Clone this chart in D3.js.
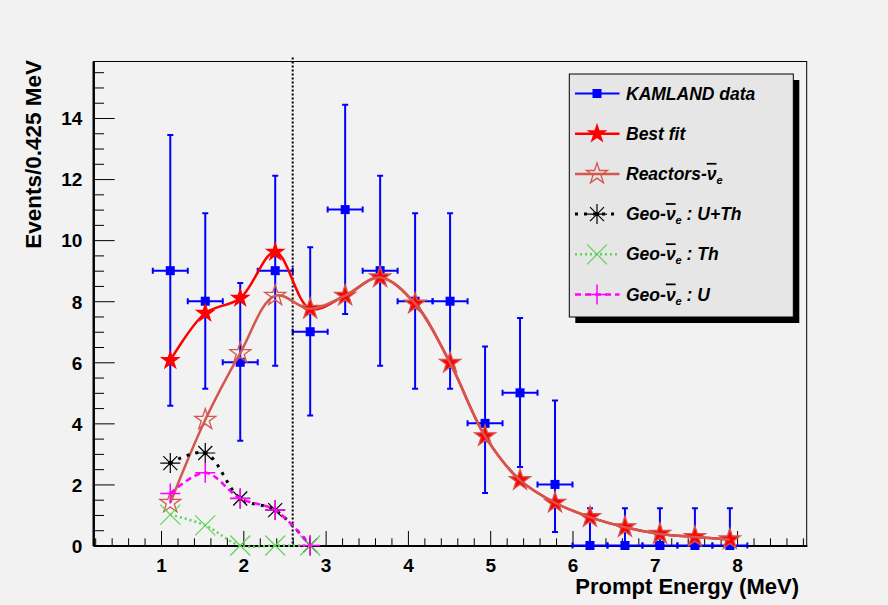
<!DOCTYPE html>
<html>
<head>
<meta charset="utf-8">
<script src="https://cdn.jsdelivr.net/npm/d3@7"></script>
<style>
body { margin: 0; background: #f2f2f2; }
text { font-family: "Liberation Sans", Arial, Helvetica, sans-serif; font-weight: bold; }
</style>
</head>
<body>
<div id="chart"></div>
<script>
var width = 888, height = 605,
    frame = {left: 93.3, right: 806.7, top: 61.5, bottom: 545.5};

// bin centres (0.425 MeV bins)
var energy = [1.1125, 1.5375, 1.9625, 2.3875, 2.8125, 3.2375, 3.6625, 4.0875, 4.5125,
              4.9375, 5.3625, 5.7875, 6.2125, 6.6375, 7.0625, 7.4875, 7.9125];
var halfBin = 0.2125;

// KamLAND data with error bar ends
var dataCounts = [9, 8, 6, 9, 7, 11, 9, 8, 8, 4, 5, 2, 0, 0, 0, 0, 0];
var dataUpper = [13.44, 10.88, 8.6, 12.11, 9.77, 14.43, 12.11, 10.88, 10.88, 6.52, 7.45, 4.75, 1.22, 1.22, 1.22, 1.22, 1.22];
var dataLower = [4.58, 5.13, 3.43, 5.89, 4.26, 7.58, 5.89, 5.13, 5.13, 1.72, 2.57, 0.44, 0, 0, 0, 0, 0];

var bestFit = [6.06, 7.61, 8.10, 9.61, 7.75, 8.18, 8.78, 7.92, 5.98, 3.58, 2.14, 1.40, 0.93, 0.60, 0.38, 0.28, 0.20];
var reactors = [1.40, 4.12, 6.30, 8.18, 7.75, 8.18, 8.78, 7.92, 5.98, 3.58, 2.14, 1.40, 0.93, 0.60, 0.38, 0.28, 0.20];

// geo-neutrino spectra, first five bins
var geoEnergy = [1.1125, 1.5375, 1.9625, 2.3875, 2.8125];
var geoUTh = [2.70, 3.03, 1.54, 1.16, 0];
var geoTh = [1.01, 0.66, 0, 0, 0];
var geoU = [1.70, 2.38, 1.54, 1.16, 0];

var cutEnergy = 2.6;

var xTicks = [1, 2, 3, 4, 5, 6, 7, 8];
var yTicks = [0, 2, 4, 6, 8, 10, 12, 14];

var col = {data: "#0000ff", fit: "#ff0000", reac: "#d4574e", uth: "#000000", th: "#5fd35a", u: "#ff00ff"};

var x = d3.scaleLinear().domain([0.177, 8.846]).range([frame.left, frame.right]);
var y = d3.scaleLinear().domain([0, 15.85]).range([frame.bottom, frame.top]);

var svg = d3.select("#chart").append("svg")
    .attr("width", width)
    .attr("height", height);

svg.append("rect").attr("width", width).attr("height", height).attr("fill", "#f2f2f2");

// frame
svg.append("rect")
    .attr("x", frame.left).attr("y", frame.top)
    .attr("width", frame.right - frame.left).attr("height", frame.bottom - frame.top)
    .attr("fill", "none").attr("stroke", "#000").attr("stroke-width", 1);

// axes
var xMinor = d3.range(0.2, 8.85, 0.2).filter(function(v) { return Math.abs(v - Math.round(v)) > 0.01; });
var yMinor = d3.range(0.5, 15.85, 0.5).filter(function(v) { return v % 2 !== 0; });

var xAxisMinor = svg.append("g")
    .attr("transform", "translate(0," + frame.bottom + ")")
    .call(d3.axisBottom(x).tickValues(xMinor).tickSize(-7.2).tickSizeOuter(0).tickFormat(""));
var xAxis = svg.append("g")
    .attr("transform", "translate(0," + frame.bottom + ")")
    .call(d3.axisBottom(x).tickValues(xTicks).tickSize(-14.5).tickSizeOuter(0).tickPadding(13).tickFormat(d3.format("d")));

var yAxisMinor = svg.append("g")
    .attr("transform", "translate(" + frame.left + ",0)")
    .call(d3.axisLeft(y).tickValues(yMinor).tickSize(-10.7).tickSizeOuter(0).tickFormat(""));
var yAxis = svg.append("g")
    .attr("transform", "translate(" + frame.left + ",0)")
    .call(d3.axisLeft(y).tickValues(yTicks).tickSize(-21.4).tickSizeOuter(0).tickPadding(11).tickFormat(d3.format("d")));

svg.selectAll(".domain").attr("stroke", "#000").attr("stroke-width", 2);
svg.selectAll(".tick line").attr("stroke", "#000").attr("stroke-width", 1);
xAxis.selectAll("text").attr("font-size", 19).attr("fill", "#000");
yAxis.selectAll("text").attr("font-size", 19).attr("fill", "#000").attr("dy", "0.36em");

svg.append("text")
    .attr("x", 799).attr("y", 594)
    .attr("text-anchor", "end")
    .attr("font-size", 22)
    .text("Prompt Energy (MeV)");

svg.append("text")
    .attr("transform", "translate(41,60) rotate(-90)")
    .attr("text-anchor", "end")
    .attr("font-size", 22.5)
    .text("Events/0.425 MeV");

// markers
var starPath = d3.symbol().type(d3.symbolStar).size(136)();

function marker(g, kind, cx, cy) {
    var m = g.append("g").attr("transform", "translate(" + cx + "," + cy + ")");
    if (kind == "data") {
        m.append("rect").attr("x", -4.5).attr("y", -4.5).attr("width", 9).attr("height", 9).attr("fill", col.data);
    } else if (kind == "fit") {
        m.append("path").attr("d", starPath).attr("fill", col.fit);
    } else if (kind == "reac") {
        m.append("path").attr("d", starPath).attr("fill", "none").attr("stroke", col.reac).attr("stroke-width", 1.3);
    } else if (kind == "uth") {
        m.append("path").attr("d", "M-10,0H10M0,-10V10M-7,-7L7,7M-7,7L7,-7")
            .attr("stroke", col.uth).attr("stroke-width", 1.2);
        m.append("circle").attr("r", 2.2).attr("fill", col.uth);
    } else if (kind == "th") {
        m.append("path").attr("d", "M-10,-10L10,10M-10,10L10,-10")
            .attr("stroke", col.th).attr("stroke-width", 1.2);
    } else if (kind == "u") {
        m.append("path").attr("d", "M-10,0H10M0,-10V10")
            .attr("stroke", col.u).attr("stroke-width", 1.5);
    }
}

// data error bars
var dataG = svg.append("g");
energy.forEach(function(e, i) {
    var cx = x(e), cy = y(dataCounts[i]);
    var xl = x(e - halfBin), xr = x(e + halfBin), yt = y(dataUpper[i]), yb = y(dataLower[i]);
    var p = "M" + xl + "," + cy + "H" + xr +
            "M" + cx + "," + yt + "V" + yb +
            "M" + (cx - 3) + "," + yt + "H" + (cx + 3) +
            "M" + (cx - 3) + "," + yb + "H" + (cx + 3) +
            "M" + xl + "," + (cy - 3) + "V" + (cy + 3) +
            "M" + xr + "," + (cy - 3) + "V" + (cy + 3);
    dataG.append("path").attr("d", p).attr("stroke", col.data).attr("stroke-width", 2).attr("fill", "none");
    marker(dataG, "data", cx, cy);
});

// cut line
svg.append("line")
    .attr("x1", x(cutEnergy)).attr("x2", x(cutEnergy))
    .attr("y1", frame.top - 4).attr("y2", frame.bottom)
    .attr("stroke", "#000").attr("stroke-width", 2).attr("stroke-dasharray", "2,2");

var line = d3.line()
    .x(function(d) { return x(d[0]); })
    .y(function(d) { return y(d[1]); })
    .curve(d3.curveCatmullRom.alpha(0.5));

function series(xs, ys, kind, color, width, dash) {
    var pts = xs.map(function(v, i) { return [v, ys[i]]; });
    var g = svg.append("g");
    g.append("path").attr("d", line(pts))
        .attr("fill", "none").attr("stroke", color).attr("stroke-width", width)
        .attr("stroke-dasharray", dash);
    pts.forEach(function(p) { marker(g, kind, x(p[0]), y(p[1])); });
}

series(energy, bestFit, "fit", col.fit, 2.5, null);
series(energy, reactors, "reac", col.reac, 2.5, null);
series(geoEnergy, geoUTh, "uth", col.uth, 3, "3,6");
series(geoEnergy, geoTh, "th", col.th, 2.5, "2,3");
series(geoEnergy, geoU, "u", col.u, 2.5, "6,4");

// legend
var legend = {x: 569.3, y: 74, w: 224, h: 243};
var entries = [
    {kind: "data", color: col.data, width: 2, dash: null, pre: "KAMLAND data"},
    {kind: "fit", color: col.fit, width: 2.5, dash: null, pre: "Best fit"},
    {kind: "reac", color: col.reac, width: 2.5, dash: null, pre: "Reactors-", nu: true, post: ""},
    {kind: "uth", color: col.uth, width: 3, dash: "3,6", pre: "Geo-", nu: true, post: " : U+Th"},
    {kind: "th", color: col.th, width: 2.5, dash: "2,3", pre: "Geo-", nu: true, post: " : Th"},
    {kind: "u", color: col.u, width: 2.5, dash: "6,4", pre: "Geo-", nu: true, post: " : U"}
];

var lg = svg.append("g");
lg.append("rect")
    .attr("x", legend.x + 6).attr("y", legend.y + 6)
    .attr("width", legend.w).attr("height", legend.h)
    .attr("fill", "#000");
lg.append("rect")
    .attr("x", legend.x).attr("y", legend.y)
    .attr("width", legend.w).attr("height", legend.h)
    .attr("fill", "#e6e6e6").attr("stroke", "#000").attr("stroke-width", 1);

entries.forEach(function(d, i) {
    var cy = 93.5 + 40.2 * i;
    lg.append("line")
        .attr("x1", 575).attr("x2", 619.5).attr("y1", cy).attr("y2", cy)
        .attr("stroke", d.color).attr("stroke-width", d.width).attr("stroke-dasharray", d.dash);
    marker(lg, d.kind, 597, cy);
    var t = lg.append("text")
        .attr("x", 626).attr("y", cy + 6)
        .attr("font-size", 17.5)
        .attr("font-style", "italic");
    t.append("tspan").text(d.pre);
    if (d.nu) {
        t.append("tspan").style("text-decoration", "overline").text("\u03bd");
        t.append("tspan").attr("font-size", 11).attr("dy", 4).text("e");
        t.append("tspan").attr("dy", -4).text(d.post);
    }
});
</script>
</body>
</html>
